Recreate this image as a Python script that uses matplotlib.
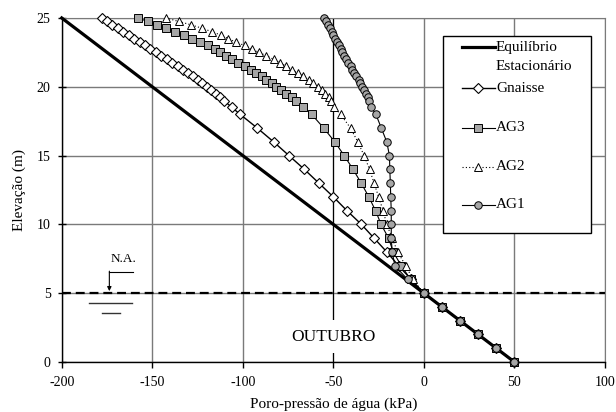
import matplotlib
matplotlib.use("Agg")
import matplotlib.pyplot as plt
from matplotlib.patches import Rectangle

plt.rcParams["font.family"] = ["Liberation Serif", "DejaVu Serif"]
plt.rcParams["axes.unicode_minus"] = False

# elevation of the mesh nodes (m)
elev = [25, 24.75, 24.5, 24.25, 24, 23.75, 23.5, 23.25, 23, 22.75, 22.5, 22.25, 22,
        21.75, 21.5, 21.25, 21, 20.75, 20.5, 20.25, 20, 19.75, 19.5, 19.25, 19,
        18.5, 18, 17, 16, 15, 14, 13, 12, 11, 10, 9, 8, 7, 6, 5, 4, 3, 2, 1, 0]

# pore pressure (kPa) at each node
gnaisse = [-178, -175, -172, -169, -166, -163, -160, -157, -154, -151, -148, -145, -142,
           -139, -136, -133, -130, -127.5, -125, -122.5, -120, -117.5, -115, -112.5, -110.5,
           -106, -101.5, -92, -83, -74.5, -66, -58, -50, -42.5, -34.5, -27.5, -20.5, -14, -7, 0,
           10, 20, 30, 40, 50]
ag3 = [-158, -152.5, -147.5, -142.5, -137.5, -132.5, -128, -123.5, -119, -115.5, -112.5, -109.5, -106,
       -102.5, -99, -95.5, -92.5, -89.5, -87, -84, -81.5, -79, -76, -73, -70.5,
       -66.5, -62, -55.3, -49.2, -44, -39.1, -34.6, -30.4, -26.7, -23.6, -19.5, -16.9, -12.5, -7.3, 0,
       10, 20, 30, 40, 50]
ag2 = [-142.5, -135.5, -128.5, -122.5, -117, -112, -108, -104, -99, -95, -91, -87, -83,
       -79.5, -76, -73, -69.5, -66.5, -63.5, -61, -58.5, -56.5, -54.5, -52.5, -51.5,
       -49.5, -46, -40.5, -36.5, -33, -30, -27.5, -25, -22.5, -20.5, -17.5, -14.5, -10, -6, 0,
       10, 20, 30, 40, 50]
ag1 = [-55, -54, -53, -52, -51, -50, -49, -48, -47, -46, -45, -44, -43,
       -42, -40.5, -39.5, -38.5, -37.5, -36, -35, -34, -33, -32, -31, -30.5,
       -29, -26.5, -23.5, -20.5, -19, -18.8, -18.5, -18.3, -18, -18, -18, -17.5, -16, -9, 0,
       10, 20, 30, 40, 50]

# steady-state hydrostatic line
eq_elev = [25, 0]
eq_u = [-200, 50]

water_level = 5

x_ticks = [-200, -150, -100, -50, 0, 50, 100]
y_ticks = [0, 5, 10, 15, 20, 25]

_grey = "#a6a6a6"
_styles = {
    "eq": dict(color="black", lw=2.3),
    "Gnaisse": dict(color="black", lw=1.0, marker="D", ms=4.6, mfc="white", mec="black", mew=0.8),
    "AG3": dict(color="black", lw=0.8, marker="s", ms=5.2, mfc=_grey, mec="black", mew=0.7),
    "AG2": dict(color="black", lw=0.8, ls=(0, (1, 2)), marker="^", ms=6.2, mfc="white", mec="black", mew=0.7),
    "AG1": dict(color="black", lw=0.8, marker="o", ms=5.4, mfc=_grey, mec="black", mew=0.7),
}


def _draw_legend(ax):
    ax.add_patch(Rectangle((0.7024, 0.375), 0.2718, 0.5727, transform=ax.transAxes,
                           fc="white", ec="black", lw=1, zorder=10))
    x0, x1, xt = 0.7362, 0.7975, 0.7995
    rows = [
        ("eq", "Equilíbrio", 0.9142),
        ("Gnaisse", "Gnaisse", 0.7956),
        ("AG3", "AG3", 0.6811),
        ("AG2", "AG2", 0.5677),
        ("AG1", "AG1", 0.4564),
    ]
    for key, lbl, y in rows:
        st = dict(_styles[key])
        mk = {k: st.pop(k) for k in ("marker", "ms", "mfc", "mec", "mew") if k in st}
        ax.plot([x0, x1], [y, y], transform=ax.transAxes, clip_on=False, zorder=11, **st)
        if mk:
            ax.plot([(x0 + x1) / 2], [y], transform=ax.transAxes, clip_on=False, zorder=12,
                    ls="none", **mk)
        ax.text(xt, y, lbl, transform=ax.transAxes, ha="left", va="center", fontsize=11, zorder=12)
    ax.text(xt, 0.8590, "Estacionário", transform=ax.transAxes, ha="left", va="center",
            fontsize=11, zorder=12)


fig = plt.figure(figsize=(6.16, 4.12), dpi=100)
ax = fig.add_axes([0.1002, 0.1214, 0.8818, 0.835])

ax.set_xlim(-200, 100)
ax.set_ylim(0, 25)
ax.set_xticks(x_ticks)
ax.set_yticks(y_ticks)
ax.grid(True, color="#7a7a7a", lw=1.0, zorder=0)
ax.set_axisbelow(True)
ax.axvline(-50, color="black", lw=0.8, zorder=1)

for side in ("top", "right"):
    ax.spines[side].set_color("#7a7a7a")
for side in ("left", "bottom"):
    ax.spines[side].set_color("black")
    ax.spines[side].set_linewidth(1.0)

ax.tick_params(axis="x", direction="out", length=4, width=1, labelsize=10, pad=6)
ax.tick_params(axis="y", direction="inout", length=6, width=1, labelsize=10, pad=5)

ax.axhline(water_level, color="black", lw=1.6, ls=(0, (4, 2.2)), zorder=2)

ax.plot(eq_u, eq_elev, zorder=3, clip_on=False, **_styles["eq"])
for name, vals in [("Gnaisse", gnaisse), ("AG3", ag3), ("AG2", ag2), ("AG1", ag1)]:
    ax.plot(vals, elev, zorder=4, clip_on=False, **_styles[name])

# N.A. symbol
ax.text(-166, 7.45, "N.A.", ha="center", va="center", fontsize=9.5)
ax.plot([-160.7, -173.7], [6.57, 6.57], color="black", lw=0.8)
ax.annotate("", xy=(-173.7, 5.15), xytext=(-173.7, 6.6),
            arrowprops=dict(arrowstyle="-|>", color="black", lw=0.8, mutation_scale=6,
                            shrinkA=0, shrinkB=0))
ax.plot([-184.7, -161.3], [4.27, 4.27], color="#333333", lw=1.0)
ax.plot([-177.5, -167.7], [3.54, 3.54], color="#333333", lw=1.0)

ax.text(-50, 1.85, "OUTUBRO", ha="center", va="center", fontsize=12.5, zorder=5,
        bbox=dict(fc="white", ec="none", pad=6))

ax.set_xlabel("Poro-pressão de água (kPa)", fontsize=11, labelpad=6)
ax.set_ylabel("Elevação (m)", fontsize=11, labelpad=8)

_draw_legend(ax)

fig.savefig("out.png", dpi=100)
